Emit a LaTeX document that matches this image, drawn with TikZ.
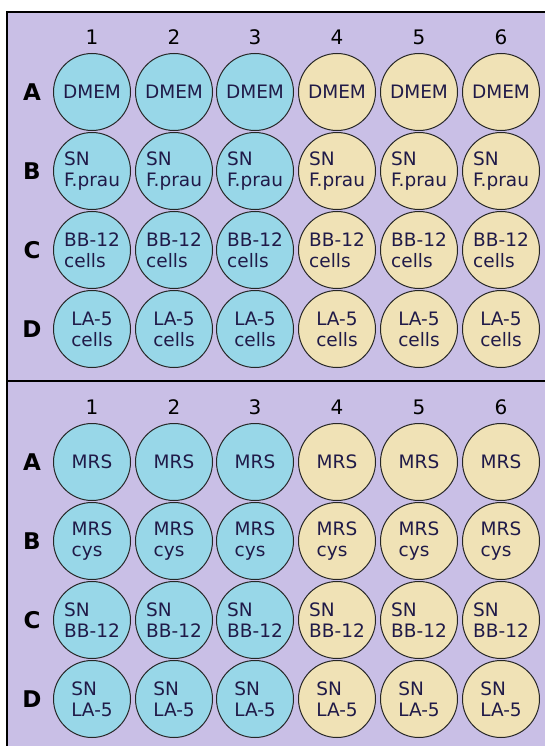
\documentclass[tikz,border=0pt]{standalone}
\usepackage{fontspec}
\setmainfont{DejaVu Sans}
\definecolor{plateback}{RGB}{201,191,230}
\definecolor{wellblue}{RGB}{152,215,232}
\definecolor{wellsand}{RGB}{240,226,182}
\definecolor{welltext}{RGB}{32,26,72}
\tikzset{
  well/.style={circle,draw=black!85,line width=1pt,minimum size=77pt,
    inner sep=0pt,align=left,text=welltext,
    font=\fontsize{18.5}{21}\selectfont},
  collabel/.style={font=\fontsize{20}{22}\selectfont},
  rowlabel/.style={font=\bfseries\fontsize{23}{25}\selectfont}
}
\newcommand\PlateGrid[6]{
  \def\P{#1} \def\Y{#2}
  \foreach \c/\xx in {1/92,2/174,3/255,4/337,5/419,6/501}
  {
    \node[collabel] (\P-n\c) at (\xx,\Y-55) {\c};
  }
  \foreach \r/\t/\yy in {A/{#3}/0,B/{#4}/79,C/{#5}/158,D/{#6}/237}
  {
    \node[rowlabel] (\P-\r) at (32,\Y+\yy) {\r};
    \foreach \c/\xx in {1/92,2/174,3/255,4/337,5/419,6/501}
    {
      \ifnum\c<4 \def\wcol{wellblue}\else\def\wcol{wellsand}\fi
      \node[well,fill=\wcol] (\P-\r\c) at (\xx,\Y+\yy) {\t};
    }
  }
}

\begin{document}
\begin{tikzpicture}[x=1pt, y=-1pt]
\useasboundingbox (0,0) rectangle (545,746);
\fill[plateback] (7,12) rectangle (545,746);
\draw[line width=1.5pt] (545,12) -- (7,12) -- (7,746);
\draw[line width=1.5pt] (7,381) -- (545,381);

% top plate
\PlateGrid{top}{92}{DMEM}{SN\\F.prau}{BB-12\\cells}{LA-5\\cells}
% bottom plate
\PlateGrid{bot}{462}{MRS}{MRS\\cys}{SN\\BB-12}{SN\\LA-5}
\end{tikzpicture}
\end{document}
